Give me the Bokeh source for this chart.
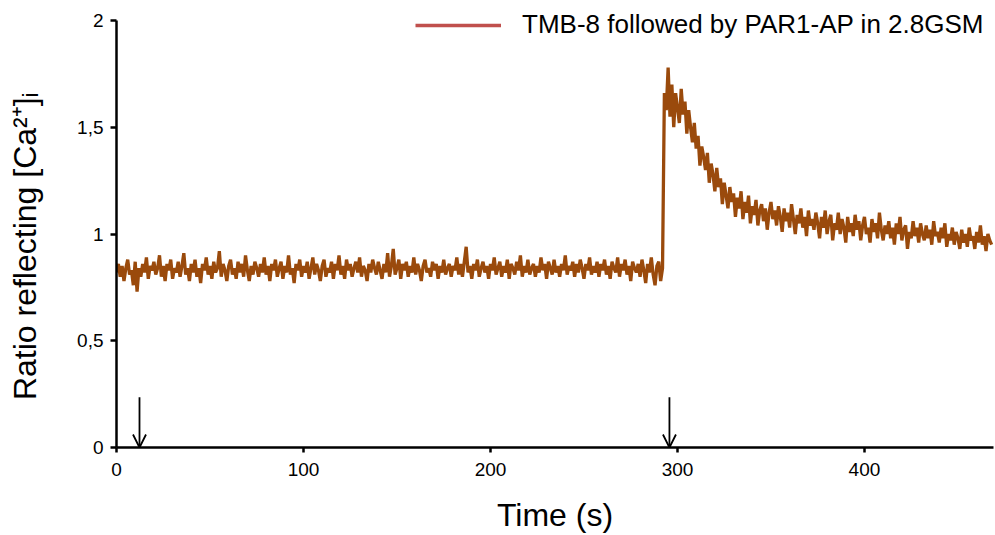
from bokeh.plotting import figure
from bokeh.models import Range1d, Legend, LegendItem, Arrow, OpenHead, FixedTicker
from bokeh.embed import file_html
from bokeh.resources import INLINE

# ---- data (1 s sampling) ----
ratio_baseline = [
    0.82,0.86,0.80,0.85,0.78,0.84,0.88,0.81,0.83,0.76,0.87,0.73,0.84,0.80,0.86,0.82,0.89,0.79,0.85,0.83,
    0.87,0.81,0.84,0.90,0.80,0.85,0.78,0.86,0.83,0.88,0.79,0.84,0.82,0.87,0.80,0.85,0.91,0.81,0.84,0.78,
    0.86,0.82,0.88,0.80,0.84,0.77,0.86,0.83,0.89,0.81,0.85,0.79,0.87,0.82,0.84,0.92,0.80,0.86,0.83,0.78,
    0.85,0.88,0.81,0.84,0.79,0.87,0.82,0.86,0.80,0.90,0.83,0.78,0.85,0.81,0.87,0.84,0.80,0.86,0.82,0.89,
    0.81,0.85,0.78,0.86,0.83,0.88,0.80,0.84,0.87,0.79,0.85,0.82,0.90,0.81,0.84,0.77,0.86,0.83,0.88,0.80,
    0.85,0.82,0.87,0.79,0.84,0.89,0.81,0.86,0.83,0.78,0.85,0.88,0.80,0.84,0.82,0.87,0.79,0.86,0.83,0.90,
    0.81,0.85,0.79,0.88,0.83,0.86,0.80,0.84,0.87,0.82,0.89,0.80,0.85,0.83,0.78,0.86,0.82,0.88,0.84,0.81,
    0.87,0.83,0.79,0.86,0.82,0.91,0.80,0.85,0.93,0.81,0.84,0.88,0.79,0.86,0.83,0.87,0.80,0.85,0.82,0.89,
    0.81,0.86,0.83,0.78,0.85,0.88,0.82,0.84,0.80,0.87,0.83,0.86,0.79,0.85,0.82,0.88,0.81,0.84,0.86,0.80,
    0.85,0.83,0.89,0.81,0.86,0.80,0.87,0.94,0.82,0.85,0.79,0.86,0.83,0.88,0.80,0.84,0.87,0.82,0.85,0.79,
    0.86,0.83,0.89,0.81,0.84,0.87,0.80,0.85,0.82,0.88,0.79,0.86,0.84,0.81,0.87,0.83,0.90,0.80,0.85,0.82,
    0.88,0.81,0.84,0.86,0.80,0.85,0.82,0.89,0.83,0.86,0.79,0.87,0.84,0.81,0.88,0.82,0.85,0.80,0.86,0.83,
    0.90,0.81,0.85,0.83,0.87,0.80,0.86,0.82,0.88,0.84,0.79,0.86,0.83,0.89,0.81,0.85,0.82,0.87,0.80,0.86,
    0.83,0.88,0.81,0.85,0.79,0.87,0.84,0.82,0.89,0.80,0.86,0.83,0.88,0.81,0.85,0.78,0.87,0.84,0.82,0.86,
    0.80,0.88,0.83,0.77,0.86,0.82,0.89,0.81,0.76,0.85,0.87,0.78,0.84,
]
ratio_response = [
    1.66,1.58,1.78,1.55,1.70,1.50,1.66,1.59,1.52,1.68,1.56,1.62,1.47,1.58,1.50,1.43,1.52,1.40,1.46,1.32,
    1.41,1.36,1.30,1.38,1.24,1.33,1.28,1.20,1.31,1.22,1.26,1.14,1.24,1.18,1.12,1.22,1.15,1.19,1.08,1.17,
    1.12,1.20,1.07,1.15,1.10,1.18,1.05,1.13,1.09,1.16,1.04,1.11,1.14,1.06,1.12,1.02,1.10,1.15,1.07,1.11,
    1.04,1.13,1.08,1.01,1.12,1.06,1.10,1.03,1.14,1.07,1.00,1.09,1.05,1.12,1.03,1.08,0.99,1.11,1.04,1.07,
    1.02,1.10,1.05,0.98,1.08,1.03,1.11,1.00,1.06,1.09,0.97,1.05,1.02,1.10,1.00,1.07,1.03,0.96,1.08,1.01,
    1.05,0.99,1.09,1.02,1.06,0.97,1.04,1.08,1.00,1.03,0.96,1.07,1.01,1.05,0.98,1.10,1.02,0.97,1.04,1.00,
    1.06,0.98,1.03,0.95,1.05,1.00,1.08,0.97,1.02,1.04,0.93,1.01,0.98,1.06,0.99,1.03,0.96,1.05,1.00,0.97,
    1.04,0.98,1.02,0.95,1.06,0.99,1.01,0.96,1.03,0.98,1.05,0.94,1.00,0.97,1.03,0.95,1.01,0.98,0.93,1.02,
    0.96,1.00,0.94,1.03,0.97,0.99,0.93,1.01,0.96,1.04,0.95,0.99,0.92,1.00,0.97,0.95,
]
ratio = ratio_baseline + ratio_response
time_s = list(range(len(ratio)))

x_ticks = [0, 100, 200, 300, 400]
y_ticks = [0, 0.5, 1, 1.5, 2]
y_tick_labels = ["0", "0,5", "1", "1,5", "2"]
arrow_times = [12.3, 295.7]
arrow_top = 0.235
legend_label = "TMB-8 followed by PAR1-AP in 2.8GSM"

FONT = "Liberation Sans"
TRACE = "#9A4A0C"
LEGEND_COLOR = "#C0504D"

# frame spans the full height above the x axis so the legend (which sits above
# the value 2) is not clipped; the y axis line itself stops at 2.
W, H = 995, 535
BORDER_BOTTOM = 88
TOP_GAP = 20  # pixels between the top of the page and the value 2
frame_h = H - BORDER_BOTTOM
y_max = y_ticks[-1] * frame_h / (frame_h - TOP_GAP)

p = figure(width=W, height=H, output_backend="svg", toolbar_location=None,
           x_range=Range1d(0, 469), y_range=Range1d(0, y_max),
           min_border_left=116, min_border_right=2, min_border_top=0,
           min_border_bottom=BORDER_BOTTOM)
p.outline_line_color = None
p.xgrid.visible = False
p.ygrid.visible = False
p.background_fill_color = "white"
p.border_fill_color = "white"

p.line(time_s, ratio, line_color=TRACE, line_width=3.3)
# legend-only renderer (draws nothing in the plot)
dummy = p.line(x=time_s[:2], y=[float("nan")] * 2, line_color=LEGEND_COLOR, line_width=3.5)

for xa in arrow_times:
    p.add_layout(Arrow(x_start=xa, y_start=arrow_top, x_end=xa, y_end=0,
                       line_color="black", line_width=1.8,
                       end=OpenHead(size=13, line_color="black", line_width=1.8)))

# axes
for ax in (p.xaxis[0], p.yaxis[0]):
    ax.axis_line_color = "black"
    ax.axis_line_width = 2.5
    ax.major_tick_line_color = "black"
    ax.major_tick_line_width = 2.5
    ax.major_tick_in = 0
    ax.minor_tick_line_color = None
    ax.major_label_text_font = FONT
    ax.major_label_text_color = "black"
    ax.axis_label_text_font = FONT
    ax.axis_label_text_font_style = "normal"
    ax.axis_label_text_color = "black"
    ax.axis_label_text_font_size = "32px"

p.xaxis.ticker = FixedTicker(ticks=x_ticks)
p.xaxis.major_tick_out = 5
p.xaxis.major_label_text_font_size = "19px"
p.xaxis.major_label_standoff = 10
p.xaxis.axis_label = "Time (s)"
p.xaxis.axis_label_standoff = 18

p.yaxis.ticker = FixedTicker(ticks=y_ticks)
p.yaxis.bounds = (y_ticks[0], y_ticks[-1])
p.yaxis.major_label_overrides = {t: l for t, l in zip(y_ticks, y_tick_labels)}
p.yaxis.major_tick_out = 6
p.yaxis.major_label_text_font_size = "19px"
p.yaxis.major_label_standoff = 7
p.yaxis.axis_label = "Ratio reflecting [Ca²⁺]ᵢ" + "\u00a0" * 5
p.yaxis.axis_label_standoff = 31

legend = Legend(items=[LegendItem(label=legend_label, renderers=[dummy])],
                location=(299, 407), orientation="vertical",
                background_fill_alpha=0, border_line_color=None,
                padding=0, margin=0, spacing=0,
                glyph_width=86, glyph_height=30, label_height=30,
                label_standoff=21,
                label_text_font=FONT, label_text_font_size="26px", label_text_color="black")
p.add_layout(legend)

open("out.html", "w").write(file_html(p, INLINE))
